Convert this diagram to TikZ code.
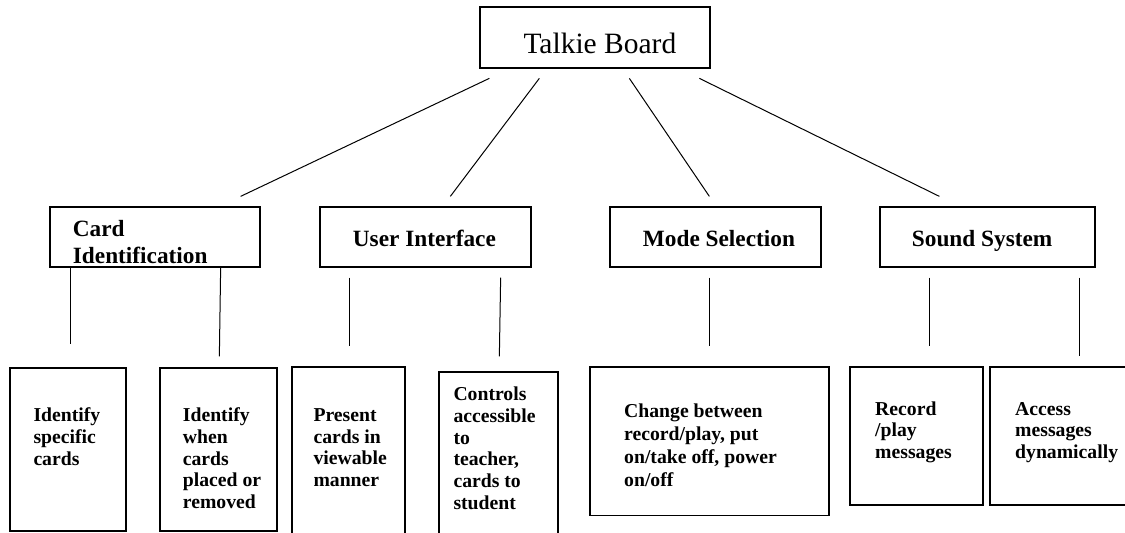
\documentclass[tikz,border=0pt]{standalone}
\usepackage{fontspec}
\setmainfont{Liberation Serif}
\tikzset{
  box/.style={draw, rectangle, line width=1.3pt, inner sep=0pt},
  link/.style={line width=1pt},
  title/.style={anchor=base west, inner sep=0pt, font=\fontsize{29.5}{33}\selectfont},
  % multi-line labels are placed by the baseline of their last line
  head/.style={anchor=base west, align=left, inner sep=0pt, font=\fontsize{23.3}{26.6}\selectfont\bfseries},
  leaf/.style={anchor=base west, align=left, inner sep=0pt, font=\fontsize{19.7}{21.7}\selectfont\bfseries},
}
\begin{document}
\begin{tikzpicture}[x=1pt, y=-1pt]
  \useasboundingbox (0,0) rectangle (1125,533);

  % root
  \node[box, minimum width=230pt, minimum height=61pt] (talkie) at (595,37.5) {};
  \node[title] (talkiet) at (523.3,53.3) {Talkie Board};

  % second level
  \node[box, minimum width=210pt, minimum height=60pt] (card)  at (155,237)   {};
  \node[box, minimum width=211pt, minimum height=60pt] (ui)    at (425.5,237) {};
  \node[box, minimum width=211pt, minimum height=60pt] (mode)  at (715.5,237) {};
  \node[box, minimum width=215pt, minimum height=60pt] (sound) at (987.5,237) {};
  \node[head] (cardt)  at (72.7,263.3) {Card\\Identification};
  \node[head] (uit)    at (352.7,246)  {User Interface};
  \node[head] (modet)  at (642.7,246)  {Mode Selection};
  \node[head] (soundt) at (911.7,246)  {Sound System};

  % leaves
  \node[box, minimum width=116pt, minimum height=163pt]   (b1)  at (68,449.5)    {};
  \node[box, minimum width=117pt, minimum height=163pt]   (b2)  at (218.5,449.5) {};
  \node[box, minimum width=113pt, minimum height=178pt]   (b3)  at (348.5,456)   {};
  \node[box, minimum width=119pt, minimum height=173pt]   (b4)  at (498.5,458.5) {};
  \node[box, minimum width=239pt, minimum height=148.7pt] (b5)  at (709.5,441.35) {};
  \node[box, minimum width=133pt, minimum height=138pt]   (rec) at (916.5,436)   {};
  \node[box, minimum width=140pt, minimum height=138pt]   (acc) at (1060,436)    {};

  \node[leaf] (b1t) at (33.3,465.1)  {Identify\\specific\\cards};
  \node[leaf] (b2t) at (182.7,508.5) {Identify\\when\\cards\\placed or\\removed};
  \node[leaf] (b3t) at (313.3,486.4) {Present\\cards in\\viewable\\manner};
  \node[leaf] (b4t) at (453.3,509.2) {Controls\\accessible\\to\\teacher,\\cards to\\student};
  \node[leaf, font=\fontsize{19.7}{23.1}\selectfont\bfseries] (b5t) at (624,486.6)
    {Change between\\record/play, put\\on/take off, power\\on/off};
  \node[leaf] (rect) at (875,458.4)  {Record\\/play\\messages};
  \node[leaf] (acct) at (1015,458.4) {Access\\messages\\dynamically};

  % root to second level
  \draw[link] ([shift={(10,9.7)}]talkie.south west)  -- ([shift={(-20,-10)}]card.north east);
  \draw[link] ([shift={(60,9.7)}]talkie.south west)  -- ([shift={(131,-10)}]ui.north west);
  \draw[link] ([shift={(150,9.7)}]talkie.south west) -- ([shift={(100,-10)}]mode.north west);
  \draw[link] ([shift={(220,9.7)}]talkie.south west) -- ([shift={(60,-10)}]sound.north west);

  % second level to leaves
  \draw[link] ([shift={(21,0)}]card.south west)   -- ([shift={(61,-23)}]b1.north west);
  \draw[link] ([shift={(-40,0)}]card.south east)  -- ([shift={(60,-11)}]b2.north west);
  \draw[link] ([shift={(30,10)}]ui.south west)    -- ([shift={(58,-20)}]b3.north west);
  \draw[link] ([shift={(-31,10)}]ui.south east)   -- ([shift={(61,-15)}]b4.north west);
  \draw[link] ([shift={(100,10)}]mode.south west) -- ([shift={(120,-20)}]b5.north west);
  \draw[link] ([shift={(50,10)}]sound.south west) -- ([shift={(80,-20)}]rec.north west);
  \draw[link] ([shift={(200,10)}]sound.south west) -- ([shift={(90,-10)}]acc.north west);
\end{tikzpicture}
\end{document}
